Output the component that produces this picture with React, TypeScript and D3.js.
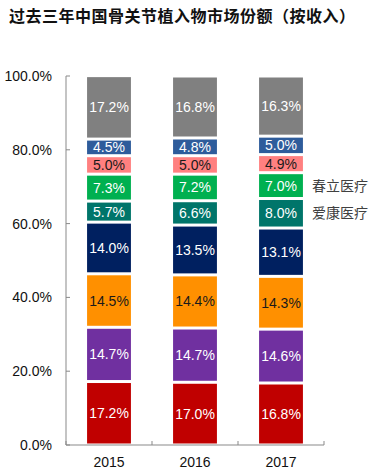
import React from "react";
import * as d3 from "d3";

const years = ["2015", "2016", "2017"];
// bottom to top
const seriesKeys = ["s1", "s2", "s3", "s4", "aikang", "chunli", "s7", "s8", "others"];
const seriesColors = ["#C00000", "#7030A0", "#FF9000", "#002060", "#00756A", "#00B050", "#FF8080", "#2E5C9B", "#808080"];
const labelColors = ["#fff", "#fff", "#1a1a1a", "#fff", "#fff", "#fff", "#1a1a1a", "#fff", "#fff"];
const v2015 = [17.2, 14.7, 14.5, 14.0, 5.7, 7.3, 5.0, 4.5, 17.2];
const v2016 = [17.0, 14.7, 14.4, 13.5, 6.6, 7.2, 5.0, 4.8, 16.8];
const v2017 = [16.8, 14.6, 14.3, 13.1, 8.0, 7.0, 4.9, 5.0, 16.3];
const yTicks = [0, 20, 40, 60, 80, 100];
const annotations = [
  { key: "chunli", text: "春立医疗" },
  { key: "aikang", text: "爱康医疗" },
];
const title = "过去三年中国骨关节植入物市场份额（按收入）";

export default function App() {
  const W = 382, H = 474;
  const x0 = 66, x1 = 324, yTop = 76, yBot = 445;
  const x = d3.scaleBand().domain(years).range([x0, x1]).paddingInner(0.49).paddingOuter(0.245);
  const y = d3.scaleLinear().domain([0, 100]).range([yBot, yTop]);
  const values = [v2015, v2016, v2017];
  const rows = years.map((yr, i) => {
    const r: any = { year: yr };
    seriesKeys.forEach((k, j) => (r[k] = values[i][j]));
    return r;
  });
  const stack = d3.stack().keys(seriesKeys)(rows as any);
  const font = "'Liberation Sans', Arial, sans-serif";
  const inset = 1.5;
  const lastIdx = years.length - 1;

  return (
    <svg width={W} height={H} style={{ position: "absolute", left: 0, top: 0, background: "#fff" }}>
      <text x={9} y={22} fontSize={16} fontWeight="bold" fill="#111" letterSpacing={0.5} fontFamily="'Noto Sans CJK SC', sans-serif">
        {title}
      </text>
      {/* axes */}
      <line x1={x0} x2={x0} y1={yTop} y2={yBot} stroke="#898989" strokeWidth={1} />
      <line x1={x0} x2={x1} y1={yBot} y2={yBot} stroke="#898989" strokeWidth={1} />
      {yTicks.map((t) => (
        <g key={t}>
          <line x1={x0} x2={x0 + 4} y1={y(t)} y2={y(t)} stroke="#898989" />
          <text x={52} y={y(t)} dy="0.35em" textAnchor="end" fontSize={14} fontFamily={font} fill="#111">
            {t.toFixed(1) + "%"}
          </text>
        </g>
      ))}
      {[x0, ...years.map((yr) => (x(yr) as number) + x.bandwidth() + (x.step() * 0.49) / 2)].map((xx, i) => (
        <line key={i} x1={xx} x2={xx} y1={yBot} y2={yBot - 4} stroke="#898989" />
      ))}
      {years.map((yr) => (
        <text key={yr} x={(x(yr) as number) + x.bandwidth() / 2} y={467} textAnchor="middle" fontSize={14} fontFamily={font} fill="#111">
          {yr}
        </text>
      ))}
      {stack.map((layer, j) =>
        layer.map((d, i) => {
          const yr = years[i];
          const top = y(d[1]) + inset;
          const bot = y(d[0]) - inset;
          return (
            <g key={j + "-" + i}>
              <rect x={x(yr)} y={top} width={x.bandwidth()} height={Math.max(0, bot - top)} fill={seriesColors[j]} />
              <text
                x={(x(yr) as number) + x.bandwidth() / 2}
                y={(top + bot) / 2}
                dy="0.36em"
                textAnchor="middle"
                fontSize={14}
                fontFamily={font}
                fill={labelColors[j]}
              >
                {values[i][j].toFixed(1) + "%"}
              </text>
            </g>
          );
        })
      )}
      {annotations.map((a) => {
        const j = seriesKeys.indexOf(a.key);
        const d = stack[j][lastIdx];
        return (
          <text key={a.key} x={312} y={(y(d[0]) + y(d[1])) / 2} dy="0.36em" fontSize={14} fontFamily="'Noto Sans CJK SC', sans-serif" fill="#404040">
            {a.text}
          </text>
        );
      })}
    </svg>
  );
}
